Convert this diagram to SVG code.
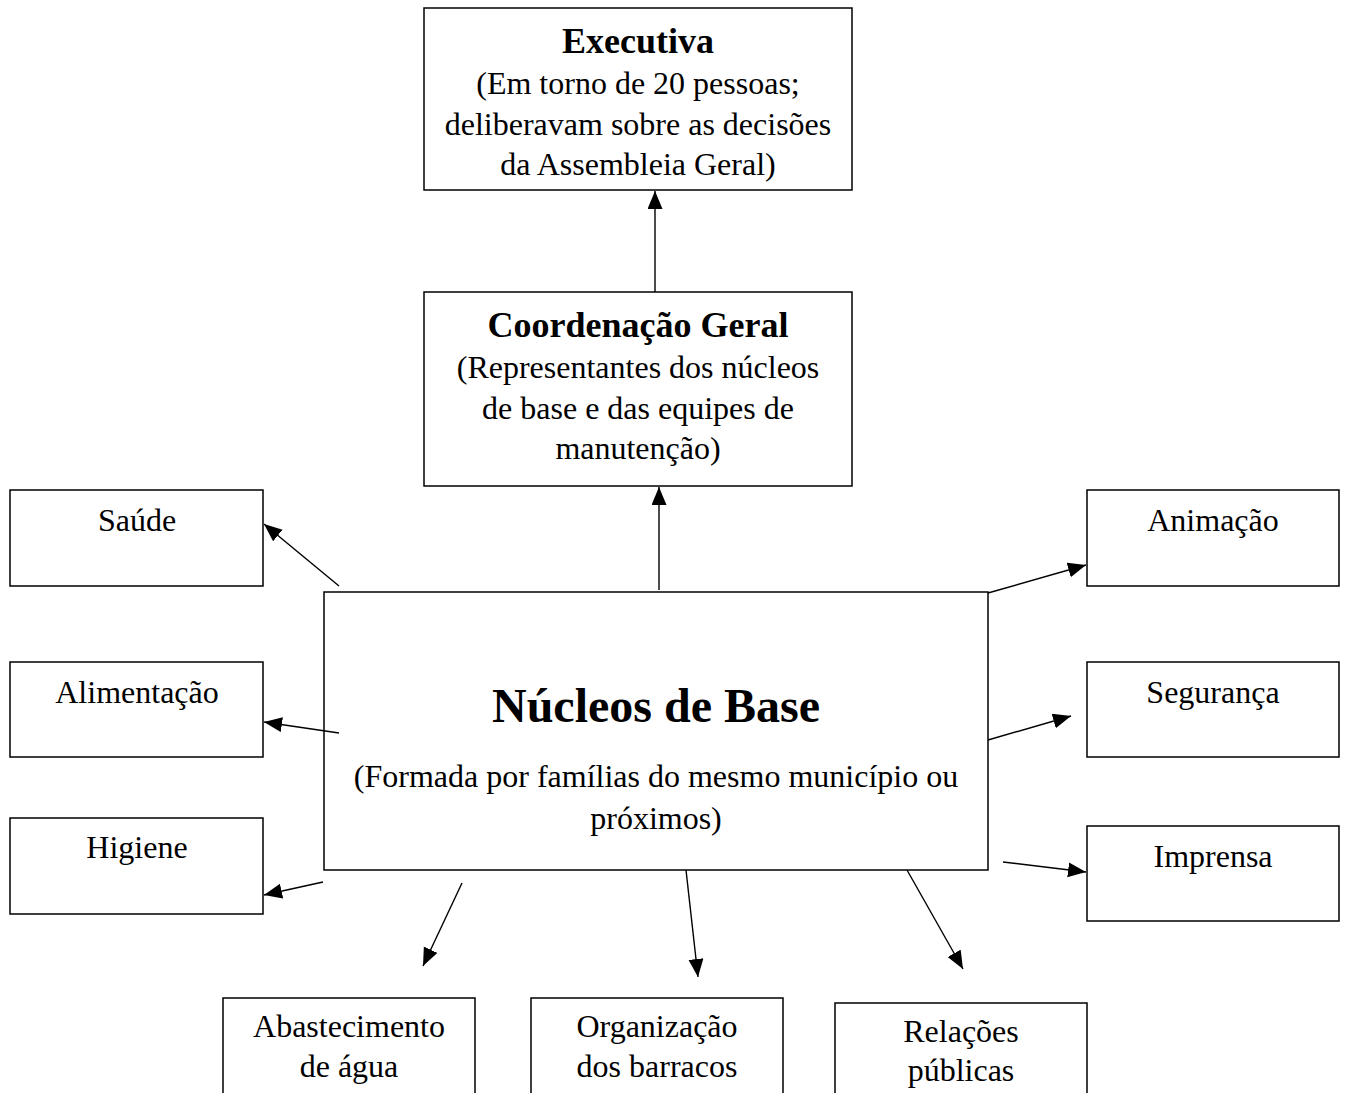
<svg xmlns="http://www.w3.org/2000/svg" width="1347" height="1093" viewBox="0 0 1347 1093">
<style>
.box{fill:#fff;stroke:#000;stroke-width:1.5}
.t{font-family:"Liberation Serif","Times New Roman",serif;font-size:32px;fill:#000;text-anchor:middle}
.b{font-family:"Liberation Serif","Times New Roman",serif;font-weight:bold;fill:#000;text-anchor:middle}
.c{stroke:#000;stroke-width:1.4;fill:none;marker-end:url(#ah)}
</style>
<defs>
<marker id="ah" markerUnits="userSpaceOnUse" markerWidth="20" markerHeight="16" refX="18" refY="7.5" orient="auto" viewBox="0 0 20 16">
<path d="M0,0 L18,7.5 L0,15 z" fill="#000"/>
</marker>
</defs>
<rect width="1347" height="1093" fill="#fff"/>
<g id="executiva">
<rect class="box" x="424" y="8" width="428" height="182"/>
<text class="b" x="638" y="53" font-size="36">Executiva</text>
<text class="t" x="638" y="94">(Em torno de 20 pessoas;</text>
<text class="t" x="638" y="135">deliberavam sobre as decisões</text>
<text class="t" x="638" y="175">da Assembleia Geral)</text>
</g>
<g id="coordenacao">
<rect class="box" x="424" y="292" width="428" height="194"/>
<text class="b" x="638" y="337" font-size="36">Coordenação Geral</text>
<text class="t" x="638" y="378">(Representantes dos núcleos</text>
<text class="t" x="638" y="419">de base e das equipes de</text>
<text class="t" x="638" y="459">manutenção)</text>
</g>
<g id="nucleos">
<rect class="box" x="324" y="592" width="664" height="278"/>
<text class="b" x="656" y="722" font-size="48">Núcleos de Base</text>
<text class="t" x="656" y="787">(Formada por famílias do mesmo município ou</text>
<text class="t" x="656" y="829">próximos)</text>
</g>
<g id="saude">
<rect class="box" x="10" y="490" width="253" height="96"/>
<text class="t" x="137" y="531">Saúde</text>
</g>
<g id="alimentacao">
<rect class="box" x="10" y="662" width="253" height="95"/>
<text class="t" x="137" y="703">Alimentação</text>
</g>
<g id="higiene">
<rect class="box" x="10" y="818" width="253" height="96"/>
<text class="t" x="137" y="858">Higiene</text>
</g>
<g id="animacao">
<rect class="box" x="1087" y="490" width="252" height="96"/>
<text class="t" x="1213" y="531">Animação</text>
</g>
<g id="seguranca">
<rect class="box" x="1087" y="662" width="252" height="95"/>
<text class="t" x="1213" y="703">Segurança</text>
</g>
<g id="imprensa">
<rect class="box" x="1087" y="826" width="252" height="95"/>
<text class="t" x="1213" y="867">Imprensa</text>
</g>
<g id="abastecimento">
<rect class="box" x="223" y="998" width="252" height="110"/>
<text class="t" x="349" y="1037">Abastecimento</text>
<text class="t" x="349" y="1077">de água</text>
</g>
<g id="organizacao">
<rect class="box" x="531" y="998" width="252" height="110"/>
<text class="t" x="657" y="1037">Organização</text>
<text class="t" x="657" y="1077">dos barracos</text>
</g>
<g id="relacoes">
<rect class="box" x="835" y="1003" width="252" height="110"/>
<text class="t" x="961" y="1042">Relações</text>
<text class="t" x="961" y="1081">públicas</text>
</g>
<g id="connectors">
<line class="c" x1="655" y1="292" x2="655" y2="191"/>
<line class="c" x1="659" y1="590" x2="659" y2="487"/>
<line class="c" x1="339" y1="586" x2="264" y2="524"/>
<line class="c" x1="339" y1="733" x2="264" y2="722"/>
<line class="c" x1="323" y1="882" x2="264" y2="895"/>
<line class="c" x1="988" y1="593" x2="1086" y2="565"/>
<line class="c" x1="988" y1="740" x2="1071" y2="716"/>
<line class="c" x1="1003" y1="862" x2="1086" y2="872"/>
<line class="c" x1="462" y1="883" x2="423" y2="966"/>
<line class="c" x1="686" y1="870" x2="698" y2="977"/>
<line class="c" x1="907" y1="870" x2="963" y2="969"/>
</g>
</svg>
